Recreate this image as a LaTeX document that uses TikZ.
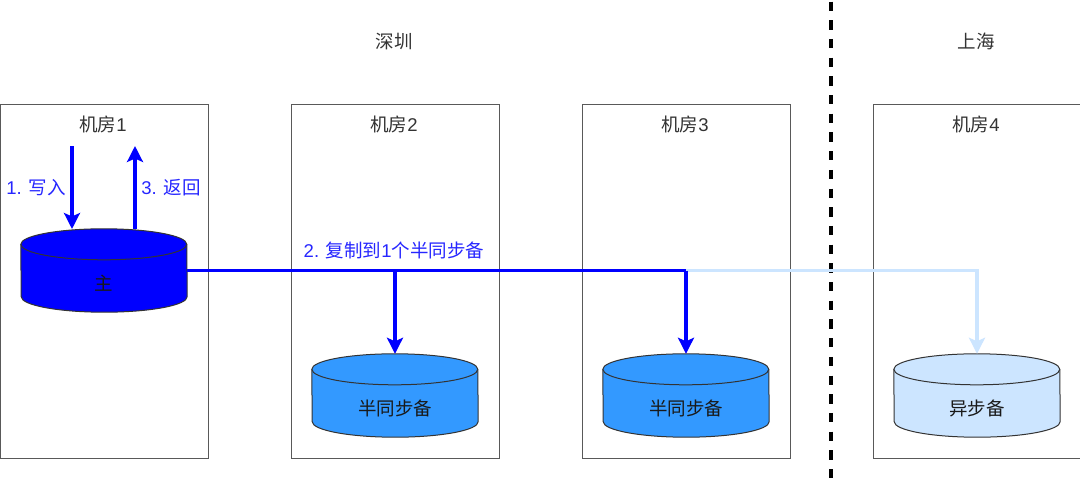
\documentclass[tikz,border=0pt]{standalone}
\usepackage{fontspec}
\setmainfont{Liberation Sans}
\newfontfamily\cjk{Noto Sans CJK SC}
\usetikzlibrary{arrows.meta}

\newcommand{\dbnode}[5]{
	\node[dbbox] (#1) at (#2,#3){};
	\draw[dbline, fill=#4] ([yshift=-15.5pt]#1.north west) arc[start angle=180, end angle=0, x radius=83pt, y radius=15.5pt]
		-- ([yshift=15.5pt]#1.south east) arc[start angle=0, end angle=-180, x radius=83pt, y radius=15.5pt] -- cycle;
	\draw[dbline] ([yshift=-15.5pt]#1.north west) arc[start angle=180, end angle=360, x radius=83pt, y radius=15.5pt];
	\node[dbtext] (#1t) at ([yshift=-12pt]#1.center){#5};
}

\begin{document}
\begin{tikzpicture}[x=1pt, y=-1pt]
\definecolor{blue2}{HTML}{3399FF}
\definecolor{blue3}{HTML}{CCE5FF}
\tikzstyle{room}=[rectangle, draw=black!65, line width=1pt, fill=white,
                        minimum width=208pt, minimum height=354pt, inner sep=0pt]
\tikzstyle{lbl}=[font=\fontsize{18.5}{22}\selectfont, text=black!80, inner sep=0pt,
                        text height=16pt, text depth=1pt]
\tikzstyle{flowlbl}=[lbl, text=blue!85!white]
\tikzstyle{dbbox}=[rectangle, minimum width=166pt, minimum height=83pt, inner sep=0pt]
\tikzstyle{dbline}=[draw=black!80, line width=1pt]
\tikzstyle{dbtext}=[lbl, font=\fontsize{18.5}{22}\selectfont\cjk, text=black!90]
\tikzstyle{sync}=[draw=blue, line width=3.2pt, -{Stealth[length=16pt, width=16pt, inset=3.5pt]}]
\tikzstyle{async}=[sync, draw=blue3]
\tikzstyle{plain}=[draw=blue, line width=3.2pt]
\useasboundingbox (0,0) rectangle (1080,479);
	\node[room] (R1) at (104,281){};
	\node[room] (R2) at (395,281){};
	\node[room] (R3) at (686,281){};
	\node[room] (R4) at (977,281){};
	\node[lbl] (SZ) at (394,41){\cjk 深圳};
	\node[lbl] (SH) at (976,41){\cjk 上海};
	\node[lbl] (L1) at (103,124){{\cjk 机房}1};
	\node[lbl] (L2) at (394,124){{\cjk 机房}2};
	\node[lbl] (L3) at (685,124){{\cjk 机房}3};
	\node[lbl] (L4) at (976,124){{\cjk 机房}4};
	\dbnode{M}{104}{270.5}{blue}{主}
	\dbnode{S2}{395}{395.5}{blue2}{半同步备}
	\dbnode{S3}{686}{395.5}{blue2}{半同步备}
	\dbnode{A4}{977}{395.5}{blue3}{异步备}
	\node[flowlbl] (W) at (36,187){1. {\cjk 写入}};
	\node[flowlbl] (Rt) at (171,187){3. {\cjk 返回}};
	\node[flowlbl] (Cp) at (394,250){2. {\cjk 复制到}1{\cjk 个半同步备}};
	\coordinate (WS) at (72,146);
	\coordinate (WE) at (72,229);
	\coordinate (RS) at (135,229);
	\coordinate (RE) at (135,146);
	\coordinate (J0) at (M.east);
	\coordinate (J3) at (S3.north |- J0);
	\coordinate (J2) at (S2.north |- J0);
	\coordinate (J4) at (A4.north |- J0);
	\coordinate (DT) at (831,1.5);
	\coordinate (DB) at (831,479);
\draw[black, line width=3.2pt, dash pattern=on 9.3pt off 9.4pt] (DT)--(DB);
\draw[async] (J3)--(J4)--(A4.north);
\draw[plain] (J0)--(J3);
\draw[sync] (J3)--(S3.north);
\draw[sync] (J2)--(S2.north);
\draw[sync] (WS)--(WE);
\draw[sync] (RS)--(RE);
\end{tikzpicture}
\end{document}
